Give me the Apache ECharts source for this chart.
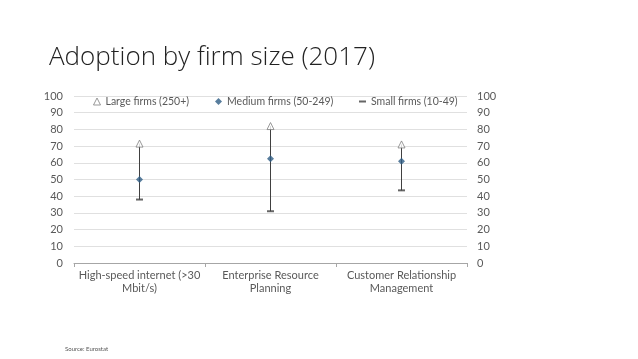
<!DOCTYPE html>
<html><head><meta charset="utf-8">
<script src="https://cdn.jsdelivr.net/npm/echarts@6/dist/echarts.min.js"></script>
<style>html,body{margin:0;padding:0;background:#fff}#c{width:638px;height:359px}</style>
</head><body><div id="c"></div>
<script>
const categories = ['High-speed internet (>30\nMbit/s)', 'Enterprise Resource\nPlanning', 'Customer Relationship\nManagement'];
const largeFirms = [71.5, 82, 71];
const mediumFirms = [50, 62.5, 61];
const smallFirms = [38, 31, 43.5];
const yTicks = [0, 10, 20, 30, 40, 50, 60, 70, 80, 90, 100];

const chart = echarts.init(document.getElementById('c'));
const font = 'Lato, "Open Sans", sans-serif';
const lab = {color:'#595959', fontFamily:font, fontSize:11};
const legLab = {color:'#595959', fontFamily:font, fontSize:10.5};
chart.setOption({
  animation:false,
  title:[{text:'Adoption by firm size (2017)', left:44, top:40, textStyle:{fontFamily:'"Open Sans"', fontWeight:300, fontSize:26, color:'#222'}},
         {text:'Source: Eurostat', left:60, top:341, textStyle:{fontFamily:font, fontWeight:'normal', fontSize:6, color:'#555'}}],
  grid:{left:74, right:171, top:96, bottom:96},
  legend:[
    {data:[{name:'Large firms (250+)', icon:'triangle'}], left:88, top:91, itemWidth:7, itemHeight:7, textStyle:legLab, itemStyle:{color:'#fff', borderColor:'#7f7f7f', borderWidth:1}},
    {data:[{name:'Medium firms (50-249)', icon:'diamond'}], left:210, top:91, itemWidth:7, itemHeight:7, textStyle:legLab},
    {data:[{name:'Small firms (10-49)', icon:'rect'}], left:354, top:91, itemWidth:7, itemHeight:2, textStyle:legLab}
  ],
  xAxis:{type:'category', data:categories, boundaryGap:true,
    axisLine:{lineStyle:{color:'#a6a6a6'}}, axisTick:{show:true, length:4, lineStyle:{color:'#a6a6a6'}},
    axisLabel:Object.assign({}, lab, {interval:0, margin:6, lineHeight:13})},
  yAxis:[
    {type:'value', min:0, max:100, interval:10, axisLine:{show:false}, axisTick:{show:false},
     splitLine:{lineStyle:{color:'#e0e0e0'}}, axisLabel:Object.assign({}, lab, {margin:11, formatter:v=>yTicks.includes(v)?String(v):''})},
    {type:'value', min:0, max:100, interval:10, axisLine:{show:false}, axisTick:{show:false},
     splitLine:{show:false}, axisLabel:Object.assign({}, lab, {margin:10, align:'left'})}
  ],
  series:[
    {type:'custom', name:'range', silent:true, z:1,
     data:categories.map((c,i)=>[i, smallFirms[i], largeFirms[i]]),
     renderItem:(params, api)=>{
       const p1 = api.coord([api.value(0), api.value(1)]);
       const p2 = api.coord([api.value(0), api.value(2)]);
       return {type:'line', shape:{x1:p1[0], y1:p1[1], x2:p2[0], y2:p2[1]}, style:{stroke:'#404040', lineWidth:1}};
     }},
    {type:'scatter', name:'Large firms (250+)', data:largeFirms, symbol:'triangle', symbolSize:7, z:3,
     itemStyle:{color:'#fff', borderColor:'#7f7f7f', borderWidth:1}},
    {type:'scatter', name:'Medium firms (50-249)', data:mediumFirms, symbol:'diamond', symbolSize:7, z:3,
     itemStyle:{color:'#2e5c85'}},
    {type:'scatter', name:'Small firms (10-49)', data:smallFirms, symbol:'rect', symbolSize:[7,2], z:3,
     itemStyle:{color:'#404040'}}
  ]
});
</script></body></html>
